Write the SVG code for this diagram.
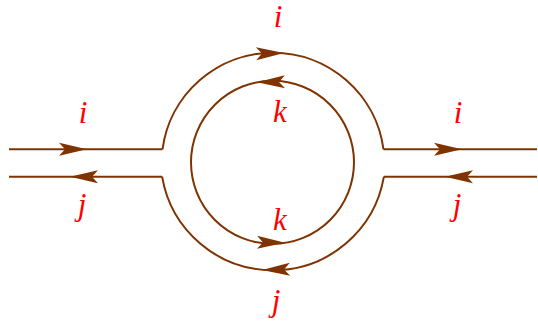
<svg xmlns="http://www.w3.org/2000/svg" width="538" height="321" viewBox="0 0 538 321">
<style>
.ln{fill:none;stroke:#7f3300;stroke-width:2}
.ah{fill:#7f3300;stroke:none}
.lb{font-family:"Liberation Serif",serif;font-style:italic;font-size:31px;fill:#ff0000;text-anchor:middle}
</style>
<defs>
<path id="arrow" class="ah" d="M0,0 L-28,-6.5 L-22,0 L-28,6.5 Z"/>
</defs>
<g id="connectors">
<path class="ln" d="M9,149.3 H162.5"/>
<path class="ln" d="M9,176.7 H162.1"/>
<path class="ln" d="M383.5,149.3 H537"/>
<path class="ln" d="M383.9,176.7 H537"/>
<path class="ln" d="M162.5,149.3 A111.5,111.5 0 0 1 383.5,149.3"/>
<path class="ln" d="M162.1,176.7 A112.5,112.5 0 0 0 383.9,176.7"/>
<circle class="ln" cx="272.5" cy="162.3" r="81.5"/>
<use href="#arrow" transform="translate(87,149.3)"/>
<use href="#arrow" transform="translate(70,176.7) rotate(180)"/>
<use href="#arrow" transform="translate(462,149.3)"/>
<use href="#arrow" transform="translate(445,176.7) rotate(180)"/>
<use href="#arrow" transform="translate(284,53) rotate(-1.5)"/>
<use href="#arrow" transform="translate(257,82.3) rotate(178.9)"/>
<use href="#arrow" transform="translate(285,242.8) rotate(1)"/>
<use href="#arrow" transform="translate(262,270) rotate(178.5)"/>
</g>
<g id="labels">
<text class="lb" x="278" y="27">i</text>
<text class="lb" x="83" y="123">i</text>
<text class="lb" x="82" y="215">j</text>
<text class="lb" x="458" y="123">i</text>
<text class="lb" x="457" y="215">j</text>
<text class="lb" x="280" y="121.5">k</text>
<text class="lb" x="280" y="230">k</text>
<text class="lb" x="276" y="311">j</text>
</g>
</svg>
